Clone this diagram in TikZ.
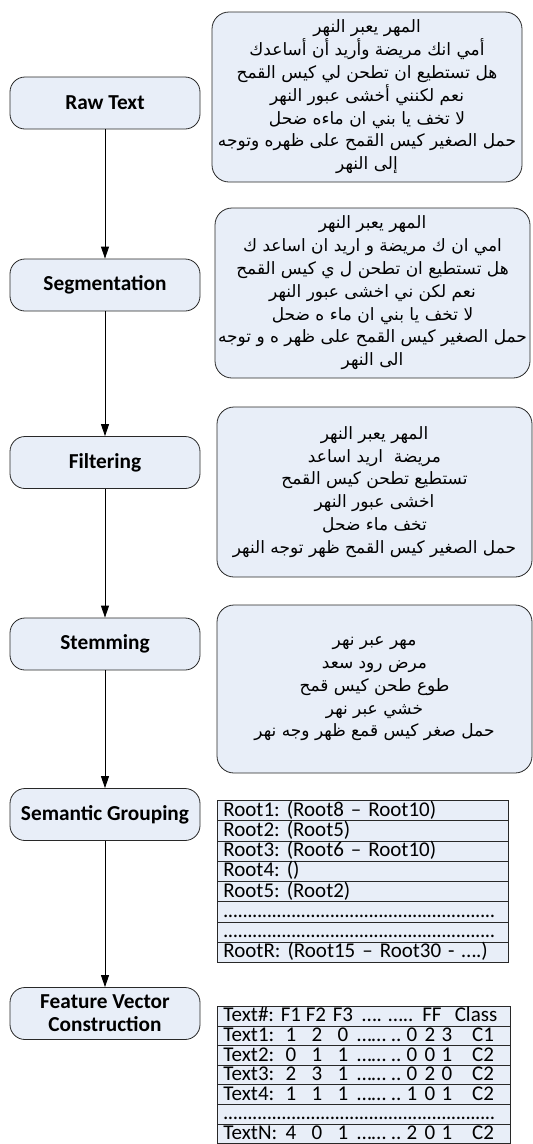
\documentclass[tikz,border=0pt]{standalone}
\usepackage{fontspec}
\setmainfont{Carlito}
\newfontfamily\arabicfont[Script=Arabic]{DejaVu Sans}
\TeXXeTstate=1
\frenchspacing
\usetikzlibrary{arrows.meta}
\definecolor{boxfill}{RGB}{232,238,248}
\definecolor{boxline}{RGB}{40,40,40}
\newcommand{\AR}[1]{\beginR #1\endR}
\newcommand{\dotrowtext}{\hbox to 272pt{\xleaders\hbox to 4.85pt{\hss.\hss}\hfill}}
\begin{document}
\begin{tikzpicture}[x=1pt,y=-1pt,
  stepbox/.style={draw=boxline, fill=boxfill, rounded corners=15pt, minimum width=190pt, minimum height=52pt, font=\fontsize{21.3}{23}\selectfont\bfseries, align=center, line width=0.8pt, inner sep=0pt},
  textbox/.style={draw=boxline, fill=boxfill, rounded corners=17pt, font=\arabicfont\fontsize{17}{22.8}\selectfont, align=center, line width=0.8pt, inner sep=0pt},
  rowbox/.style={draw=boxline, fill=boxfill, anchor=north west, minimum height=#1, inner ysep=0pt, inner xsep=6pt, text width=279pt, align=left, text height=15pt, text depth=3.5pt, font=\fontsize{21}{22}\selectfont, line width=0.7pt},
  rowbox/.default=20.25pt,
  frow/.style={rowbox=19.6pt, text width=281pt},
  cell/.style={anchor=base, inner sep=0pt, font=\fontsize{21}{22}\selectfont},
  flow/.style={-{Triangle[length=12pt,width=8pt]}, line width=0.8pt}
]
\useasboundingbox (0,0) rectangle (533,1144);

% left process steps
\node[stepbox] (raw) at (105,103) {Raw Text};
\node[stepbox] (seg) at (105,285) {Segmentation};
\node[stepbox] (fil) at (105,462.5) {Filtering};
\node[stepbox] (stem) at (105,644) {Stemming};
\node[stepbox] (sem) at (105,814.5) {Semantic Grouping};
\node[stepbox] (fvc) at (105,1013.5) {Feature Vector\\Construction};

\draw[flow] (raw) -- (seg);
\draw[flow] (seg) -- (fil);
\draw[flow] (fil) -- (stem);
\draw[flow] (stem) -- (sem);
\draw[flow] (sem) -- (fvc);

% right text boxes
\node[textbox, minimum width=310pt, minimum height=170pt] (rawtxt) at (367,97) {%
\AR{المهر يعبر النهر}\\
\AR{أمي انك مريضة وأريد أن أساعدك}\\
\AR{هل تستطيع ان تطحن لي كيس القمح}\\
\AR{نعم لكنني أخشى عبور النهر}\\
\AR{لا تخف يا بني ان ماءه ضحل}\\
\AR{حمل الصغير كيس القمح على ظهره وتوجه}\\
\AR{إلى النهر}};

\node[textbox, minimum width=315pt, minimum height=170pt] (segtxt) at (372.5,293) {%
\AR{المهر يعبر النهر}\\
\AR{امي ان ك مريضة و اريد ان اساعد ك}\\
\AR{هل تستطيع ان تطحن ل ي كيس القمح}\\
\AR{نعم لكن ني اخشى عبور النهر}\\
\AR{لا تخف يا بني ان ماء ه ضحل}\\
\AR{حمل الصغير كيس القمح على ظهر ه و توجه}\\
\AR{الى النهر}};

\node[textbox, minimum width=315pt, minimum height=170pt] (filtxt) at (374.5,492) {%
\AR{المهر يعبر النهر}\\
\AR{مريضة~ اريد اساعد}\\
\AR{تستطيع تطحن كيس القمح}\\
\AR{اخشى عبور النهر}\\
\AR{تخف ماء ضحل}\\
\AR{حمل الصغير كيس القمح ظهر توجه النهر}};

\node[textbox, minimum width=315pt, minimum height=168pt] (stemtxt) at (374.5,689) {%
\AR{مهر عبر نهر}\\
\AR{مرض رود سعد}\\
\AR{طوع طحن كيس قمح}\\
\AR{خشي عبر نهر}\\
\AR{حمل صغر كيس قمع ظهر وجه نهر}};

% semantic grouping table
\node[rowbox] (sg1) at (217,800) {Root1: (Root8 – Root10)};
\node[rowbox] (sg2) at (217,820.25) {Root2: (Root5)};
\node[rowbox] (sg3) at (217,840.5) {Root3: (Root6 – Root10)};
\node[rowbox] (sg4) at (217,860.75) {Root4: ()};
\node[rowbox] (sg5) at (217,881) {Root5: (Root2)};
\node[rowbox] (sg6) at (217,901.25) {\dotrowtext};
\node[rowbox] (sg7) at (217,921.5) {\dotrowtext};
\node[rowbox] (sg8) at (217,941.75) {RootR: (Root15 – Root30 - ….)};

% feature vector table
\node[frow] (fh) at (217,1006) {Text\#:};
\node[cell] (fh1) at ([xshift=74pt]fh.base west) {F1};
\node[cell] (fh2) at ([xshift=99pt]fh.base west) {F2};
\node[cell] (fh3) at ([xshift=126pt]fh.base west) {F3};
\node[cell] (fh4) at ([xshift=155pt]fh.base west) {….};
\node[cell] (fh5) at ([xshift=184pt]fh.base west) {…..};
\node[cell] (fh6) at ([xshift=215pt]fh.base west) {FF};
\node[cell] (fhc) at ([xshift=259pt]fh.base west) {Class};
\foreach \lab/\a/\b/\c/\d/\e/\f/\cl [count=\i] in
  {Text1:/1/2/0/0/2/3/C1, Text2:/0/1/1/0/0/1/C2, Text3:/2/3/1/0/2/0/C2, Text4:/1/1/1/1/0/1/C2}{
  \node[frow] (fr\i) at (217,1006+19.6*\i) {\lab};
  \node[cell] (fa\i) at ([xshift=74pt]fr\i.base west) {\a};
  \node[cell] (fb\i) at ([xshift=100pt]fr\i.base west) {\b};
  \node[cell] (fc\i) at ([xshift=126pt]fr\i.base west) {\c};
  \node[cell, anchor=base west] (fdots\i) at ([xshift=140pt]fr\i.base west) {…… ..};
  \node[cell] (fd\i) at ([xshift=195pt]fr\i.base west) {\d};
  \node[cell] (fe\i) at ([xshift=213pt]fr\i.base west) {\e};
  \node[cell] (ff\i) at ([xshift=230pt]fr\i.base west) {\f};
  \node[cell] (fcl\i) at ([xshift=266pt]fr\i.base west) {\cl};
}
\node[frow] (fr5) at (217,1104) {\dotrowtext};
\node[frow] (fr6) at (217,1123.6) {TextN:};
\node[cell] (fa6) at ([xshift=74pt]fr6.base west) {4};
\node[cell] (fb6) at ([xshift=100pt]fr6.base west) {0};
\node[cell] (fc6) at ([xshift=126pt]fr6.base west) {1};
\node[cell, anchor=base west] (fdots6) at ([xshift=140pt]fr6.base west) {…… ..};
\node[cell] (fd6) at ([xshift=195pt]fr6.base west) {2};
\node[cell] (fe6) at ([xshift=213pt]fr6.base west) {0};
\node[cell] (ff6) at ([xshift=230pt]fr6.base west) {1};
\node[cell] (fcl6) at ([xshift=266pt]fr6.base west) {C2};
\end{tikzpicture}
\end{document}
